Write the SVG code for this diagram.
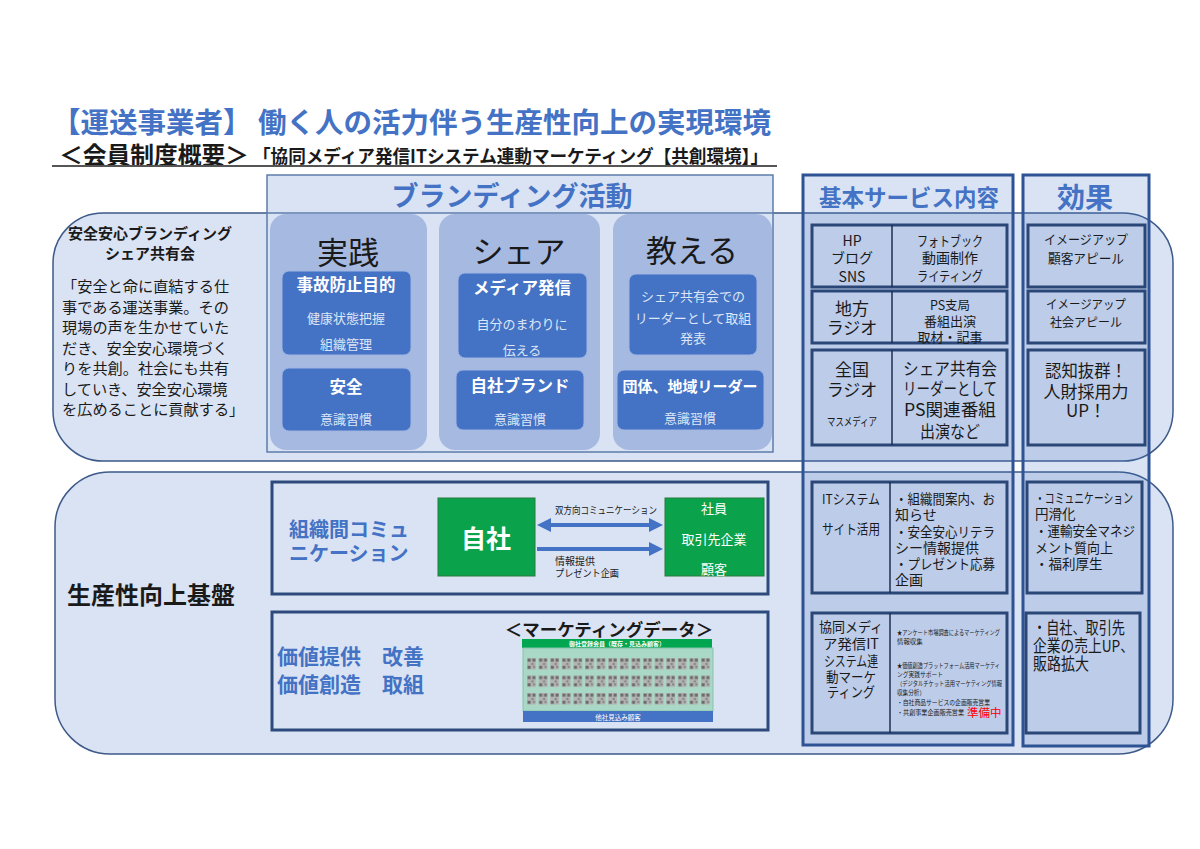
<svg xmlns="http://www.w3.org/2000/svg" width="1200" height="849" viewBox="0 0 1200 849">
<style>
text { font-family: "Noto Sans CJK JP", "Noto Sans", sans-serif; dominant-baseline: central; fill: #1a1a1a; }
.b { font-weight: bold; }
.c { text-anchor: middle; }
.blue { fill: #4472C4; }
.wt { fill: #ffffff; }
.lt { fill: #dde6f6; }
.tiny { font-size: 6.4px; }
.panel { fill: #DAE3F3; stroke: #3D5A88; stroke-width: 1.5; }
.bcol { fill: #A6B9E1; }
.ibox { fill: #4472C4; stroke: #9FB5E2; stroke-width: 1; }
.col { fill: #4472C4; fill-opacity: 0.2; stroke: #2E5395; stroke-width: 3; }
.row { fill: none; stroke: #2A4777; stroke-width: 3; }
.div { stroke: #1E2F4F; stroke-width: 1.5; }
.frame { fill: #DAE3F3; stroke: #2C4A7C; stroke-width: 3; }
.green { fill: #0BA24C; stroke: #2A7A3C; stroke-width: 1; }
.arrow { stroke: #4472C4; stroke-width: 4; fill: none; }
</style>
<defs>
<marker id="ah" viewBox="0 0 10 10" refX="0" refY="5" markerWidth="3.5" markerHeight="4" orient="auto-start-reverse" markerUnits="strokeWidth">
<path d="M0,0 L10,5 L0,10 z" fill="#4472C4"/>
</marker>
<pattern id="qr" patternUnits="userSpaceOnUse" x="527" y="658" width="11.6" height="17.5">
<rect width="9" height="11.5" fill="#B3B3B3"/>
<rect x="0.6" y="0.6" width="3" height="3" fill="#6A6A6A"/>
<rect x="5.4" y="0.6" width="3" height="3" fill="#6A6A6A"/>
<rect x="0.6" y="7.8" width="3" height="3" fill="#6A6A6A"/>
<rect x="4.5" y="5" width="2" height="2" fill="#7E7E7E"/>
<rect x="6" y="8" width="2" height="2" fill="#7E7E7E"/>
</pattern>
</defs>
<rect width="1200" height="849" fill="#ffffff"/>

<g id="title">
<text x="52" y="120" class="b blue" font-size="28.5">【運送事業者】 働く人の活力伴う生産性向上の実現環境</text>
<text x="59" y="154" class="b" font-size="23.5" fill="#111" textLength="190" lengthAdjust="spacingAndGlyphs">＜会員制度概要＞</text>
<text x="253" y="155" class="b" font-size="18" textLength="515" lengthAdjust="spacingAndGlyphs">「協同メディア発信ITシステム連動マーケティング【共創環境】」</text>
<line x1="52" y1="166" x2="777" y2="166" stroke="#555" stroke-width="2"/>
</g>

<g id="panels">
<rect id="panel-top" class="panel" x="53" y="213" width="1120" height="248" rx="50"/>
<rect id="panel-bottom" class="panel" x="55" y="472" width="1118" height="282" rx="55"/>
</g>

<g id="share-group">
<text x="150" y="232" class="b c" font-size="15">安全安心ブランディング</text>
<text x="150" y="252" class="b c" font-size="15">シェア共有会</text>
<text x="62" y="285" font-size="15.2">「安全と命に直結する仕</text>
<text x="62" y="305.5" font-size="15.2">事である運送事業。その</text>
<text x="62" y="326" font-size="15.2">現場の声を生かせていた</text>
<text x="62" y="346.5" font-size="15.2">だき、安全安心環境づく</text>
<text x="62" y="367" font-size="15.2">りを共創。社会にも共有</text>
<text x="62" y="387.5" font-size="15.2">していき、安全安心環境</text>
<text x="62" y="408" font-size="15.2">を広めることに貢献する」</text>
</g>

<g id="branding">
<rect x="267" y="175" width="506" height="277" fill="#DAE3F3" stroke="#5E7CAB" stroke-width="1.5"/>
<line x1="267" y1="213" x2="773" y2="213" stroke="#5E7CAB" stroke-width="1.5"/>
<text x="512" y="194" class="b c blue" font-size="27">ブランディング活動</text>
</g>

<g id="practice">
<rect class="bcol" x="270" y="214" width="157" height="236" rx="16"/>
<text x="348" y="250" class="c" font-size="31">実践</text>
<rect class="ibox" x="282" y="271" width="129" height="84" rx="7"/>
<text x="346" y="284" class="b c wt" font-size="16.5">事故防止目的</text>
<text x="346" y="317" class="c lt" font-size="13">健康状態把握</text>
<text x="346" y="343" class="c lt" font-size="13">組織管理</text>
<rect class="ibox" x="282" y="368" width="129" height="63" rx="7"/>
<text x="346" y="386" class="b c wt" font-size="16.5">安全</text>
<text x="346" y="418" class="c lt" font-size="13">意識習慣</text>
</g>

<g id="share">
<rect class="bcol" x="439" y="214" width="161" height="236" rx="16"/>
<text x="519" y="249" class="c" font-size="31">シェア</text>
<rect class="ibox" x="458" y="273" width="129" height="85" rx="7"/>
<text x="522" y="287" class="b c wt" font-size="16.5">メディア発信</text>
<text x="522" y="323" class="c lt" font-size="13">自分のまわりに</text>
<text x="522" y="349" class="c lt" font-size="13">伝える</text>
<rect class="ibox" x="456" y="370" width="128" height="60" rx="7"/>
<text x="520" y="385" class="b c wt" font-size="16.5">自社ブランド</text>
<text x="520" y="418" class="c lt" font-size="13">意識習慣</text>
</g>

<g id="teach">
<rect class="bcol" x="613" y="214" width="159" height="236" rx="16"/>
<text x="692" y="248" class="c" font-size="31">教える</text>
<rect class="ibox" x="629" y="274" width="128" height="81" rx="7"/>
<text x="693" y="295" class="c lt" font-size="13">シェア共有会での</text>
<text x="693" y="317" class="c lt" font-size="13">リーダーとして取組</text>
<text x="693" y="337" class="c lt" font-size="13">発表</text>
<rect class="ibox" x="617" y="370" width="147" height="60" rx="7"/>
<text x="690" y="385" class="b c wt" font-size="15">団体、地域リーダー</text>
<text x="690" y="417" class="c lt" font-size="13">意識習慣</text>
</g>

<g id="base">
<text x="67" y="593" class="b" font-size="24" fill="#111">生産性向上基盤</text>
</g>

<g id="communication">
<rect class="frame" x="272" y="482" width="496" height="112"/>
<text x="289" y="528" class="b blue" font-size="20">組織間コミュ</text>
<text x="289" y="552" class="b blue" font-size="20">ニケーション</text>
</g>
<g id="own-company">
<rect class="green" x="438" y="498" width="97" height="78"/>
<text x="486" y="537" class="b c wt" font-size="25">自社</text>
</g>
<g id="partners">
<rect class="green" x="665" y="498" width="99" height="78"/>
<text x="714" y="507" class="c wt" font-size="13">社員</text>
<text x="714" y="538" class="c wt" font-size="13">取引先企業</text>
<text x="714" y="568" class="c wt" font-size="13">顧客</text>
</g>

<g id="value">
<rect class="frame" x="272" y="612" width="496" height="118"/>
<text x="277" y="655" class="b blue" font-size="21">価値提供　改善</text>
<text x="277" y="683" class="b blue" font-size="21">価値創造　取組</text>
</g>
<g id="marketing-data">
<text x="609" y="628" class="b c" font-size="17.5" fill="#111">＜マーケティングデータ＞</text>
<rect x="522" y="639" width="190" height="9" fill="#00A650"/>
<text x="617" y="643.5" class="b c wt" font-size="6">御社登録会員（既存・見込み顧客）</text>
<rect x="523" y="648" width="190" height="63" fill="#A9D9C6" stroke="#86C3AC" stroke-width="1"/>
<rect x="527" y="658" width="184" height="47" fill="url(#qr)"/>
<rect x="523" y="711" width="190" height="11" fill="#4472C4"/>
<text x="618" y="716.5" class="c wt" font-size="6.5">他社見込み顧客</text>
</g>

<g id="connectors">
<line class="arrow" x1="551" y1="525" x2="649" y2="525" marker-start="url(#ah)" marker-end="url(#ah)"/>
<line class="arrow" x1="537" y1="549" x2="649" y2="549" marker-end="url(#ah)"/>
<text x="555" y="509" font-size="10" textLength="102" lengthAdjust="spacingAndGlyphs">双方向コミュニケーション</text>
<text x="555" y="560" font-size="10">情報提供</text>
<text x="555" y="572" font-size="10" textLength="64" lengthAdjust="spacingAndGlyphs">プレゼント企画</text>
</g>

<g id="service-column">
<rect class="col" x="803" y="175" width="210" height="570"/>
<text x="909" y="196" class="b c blue" font-size="22.5">基本サービス内容</text>
</g>
<g id="effect-column">
<rect class="col" x="1023" y="175" width="126" height="571"/>
<text x="1085" y="196" class="b c blue" font-size="28">効果</text>
</g>

<g id="service-web">
<rect class="row" x="812" y="225" width="195" height="62"/>
<line class="div" x1="892" y1="225" x2="892" y2="287"/>
<text x="852" y="240" class="c" font-size="14">HP</text>
<text x="852" y="257" class="c" font-size="14">ブログ</text>
<text x="852" y="276" class="c" font-size="14">SNS</text>
<text x="950" y="240" class="c" font-size="13.5" textLength="66" lengthAdjust="spacingAndGlyphs">フォトブック</text>
<text x="950" y="257" class="c" font-size="14">動画制作</text>
<text x="950" y="275" class="c" font-size="13.5" textLength="66" lengthAdjust="spacingAndGlyphs">ライティング</text>
</g>
<g id="effect-web">
<rect class="row" x="1028" y="225" width="117" height="62"/>
<text x="1086" y="238" class="c" font-size="13" textLength="84" lengthAdjust="spacingAndGlyphs">イメージアップ</text>
<text x="1086" y="257" class="c" font-size="13" textLength="76" lengthAdjust="spacingAndGlyphs">顧客アピール</text>
</g>

<g id="service-local">
<rect class="row" x="812" y="291" width="195" height="52"/>
<line class="div" x1="892" y1="291" x2="892" y2="343"/>
<text x="852" y="307" class="c" font-size="17">地方</text>
<text x="852" y="326" class="c" font-size="17">ラジオ</text>
<text x="950" y="304" class="c" font-size="12.5">PS支局</text>
<text x="950" y="320" class="c" font-size="13">番組出演</text>
<text x="950" y="336" class="c" font-size="13">取材・記事</text>
</g>
<g id="effect-local">
<rect class="row" x="1028" y="291" width="117" height="52"/>
<text x="1086" y="303" class="c" font-size="12.5" textLength="80" lengthAdjust="spacingAndGlyphs">イメージアップ</text>
<text x="1086" y="321" class="c" font-size="12.5" textLength="72" lengthAdjust="spacingAndGlyphs">社会アピール</text>
</g>

<g id="service-national">
<rect class="row" x="812" y="350" width="195" height="95"/>
<line class="div" x1="892" y1="350" x2="892" y2="445"/>
<text x="852" y="368" class="c" font-size="17">全国</text>
<text x="852" y="388" class="c" font-size="17">ラジオ</text>
<text x="852" y="421" class="c" font-size="11.5" textLength="50" lengthAdjust="spacingAndGlyphs">マスメディア</text>
<text x="950" y="367" class="c" font-size="17" textLength="94" lengthAdjust="spacingAndGlyphs">シェア共有会</text>
<text x="950" y="387" class="c" font-size="17" textLength="94" lengthAdjust="spacingAndGlyphs">リーダーとして</text>
<text x="950" y="408" class="c" font-size="17" textLength="92" lengthAdjust="spacingAndGlyphs">PS関連番組</text>
<text x="950" y="430" class="c" font-size="17" textLength="60" lengthAdjust="spacingAndGlyphs">出演など</text>
</g>
<g id="effect-national">
<rect class="row" x="1028" y="350" width="117" height="95"/>
<text x="1086" y="369" class="c" font-size="17" textLength="82" lengthAdjust="spacingAndGlyphs">認知抜群！</text>
<text x="1086" y="390" class="c" font-size="17" textLength="85" lengthAdjust="spacingAndGlyphs">人財採用力</text>
<text x="1086" y="409" class="c" font-size="17">UP！</text>
</g>

<g id="service-it">
<rect class="row" x="812" y="482" width="195" height="111"/>
<line class="div" x1="890" y1="482" x2="890" y2="593"/>
<text x="851" y="498" class="c" font-size="13.5" textLength="58" lengthAdjust="spacingAndGlyphs">ITシステム</text>
<text x="851" y="528" class="c" font-size="13.5" textLength="58" lengthAdjust="spacingAndGlyphs">サイト活用</text>
<text x="895" y="498" font-size="14" textLength="100" lengthAdjust="spacingAndGlyphs">・組織間案内、お</text>
<text x="895" y="514" font-size="14">知らせ</text>
<text x="895" y="531" font-size="14" textLength="100" lengthAdjust="spacingAndGlyphs">・安全安心リテラ</text>
<text x="895" y="547" font-size="14" textLength="84" lengthAdjust="spacingAndGlyphs">シー情報提供</text>
<text x="895" y="563" font-size="14" textLength="100" lengthAdjust="spacingAndGlyphs">・プレゼント応募</text>
<text x="895" y="579" font-size="14">企画</text>
</g>
<g id="effect-it">
<rect class="row" x="1027" y="482" width="115" height="111"/>
<text x="1035" y="497" font-size="13.5" textLength="98" lengthAdjust="spacingAndGlyphs">・コミュニケーション</text>
<text x="1035" y="513" font-size="13.5">円滑化</text>
<text x="1035" y="530" font-size="13.5" textLength="100" lengthAdjust="spacingAndGlyphs">・運輸安全マネジ</text>
<text x="1035" y="547" font-size="13.5" textLength="78" lengthAdjust="spacingAndGlyphs">メント質向上</text>
<text x="1035" y="563" font-size="13.5">・福利厚生</text>
</g>

<g id="service-marketing">
<rect class="row" x="812" y="613" width="195" height="120"/>
<line class="div" x1="890" y1="613" x2="890" y2="733"/>
<text x="851" y="626" class="c" font-size="14" textLength="64" lengthAdjust="spacingAndGlyphs">協同メディ</text>
<text x="851" y="643" class="c" font-size="14" textLength="56" lengthAdjust="spacingAndGlyphs">ア発信IT</text>
<text x="851" y="660" class="c" font-size="14" textLength="54" lengthAdjust="spacingAndGlyphs">システム連</text>
<text x="851" y="676" class="c" font-size="14" textLength="50" lengthAdjust="spacingAndGlyphs">動マーケ</text>
<text x="851" y="691" class="c" font-size="14" textLength="48" lengthAdjust="spacingAndGlyphs">ティング</text>
<text x="897" y="632" class="tiny" textLength="103" lengthAdjust="spacingAndGlyphs">★アンケート市場調査によるマーケティング</text>
<text x="897" y="641" class="tiny">情報収集</text>
<text x="897" y="665" class="tiny" textLength="103" lengthAdjust="spacingAndGlyphs">★価値創造プラットフォーム活用マーケティ</text>
<text x="897" y="674" class="tiny" textLength="46" lengthAdjust="spacingAndGlyphs">ング実践サポート</text>
<text x="897" y="683" class="tiny" textLength="105" lengthAdjust="spacingAndGlyphs">（デジタルチケット活用マーケティング情報</text>
<text x="897" y="692" class="tiny" textLength="28" lengthAdjust="spacingAndGlyphs">収集分析）</text>
<text x="897" y="702" class="tiny" textLength="93" lengthAdjust="spacingAndGlyphs">・自社商品サービスの企画販売営業</text>
<text x="897" y="712" class="tiny" textLength="67" lengthAdjust="spacingAndGlyphs">・共創事業企画販売営業</text>
<text x="967" y="712" font-size="11.5" style="fill:#FF0000">準備中</text>
</g>
<g id="effect-marketing">
<rect class="row" x="1026" y="613" width="114" height="120"/>
<text x="1033" y="627" font-size="16.5" textLength="92" lengthAdjust="spacingAndGlyphs">・自社、取引先</text>
<text x="1033" y="645" font-size="16.5" textLength="101" lengthAdjust="spacingAndGlyphs">企業の売上UP、</text>
<text x="1033" y="663" font-size="16.5" textLength="56" lengthAdjust="spacingAndGlyphs">販路拡大</text>
</g>
</svg>
